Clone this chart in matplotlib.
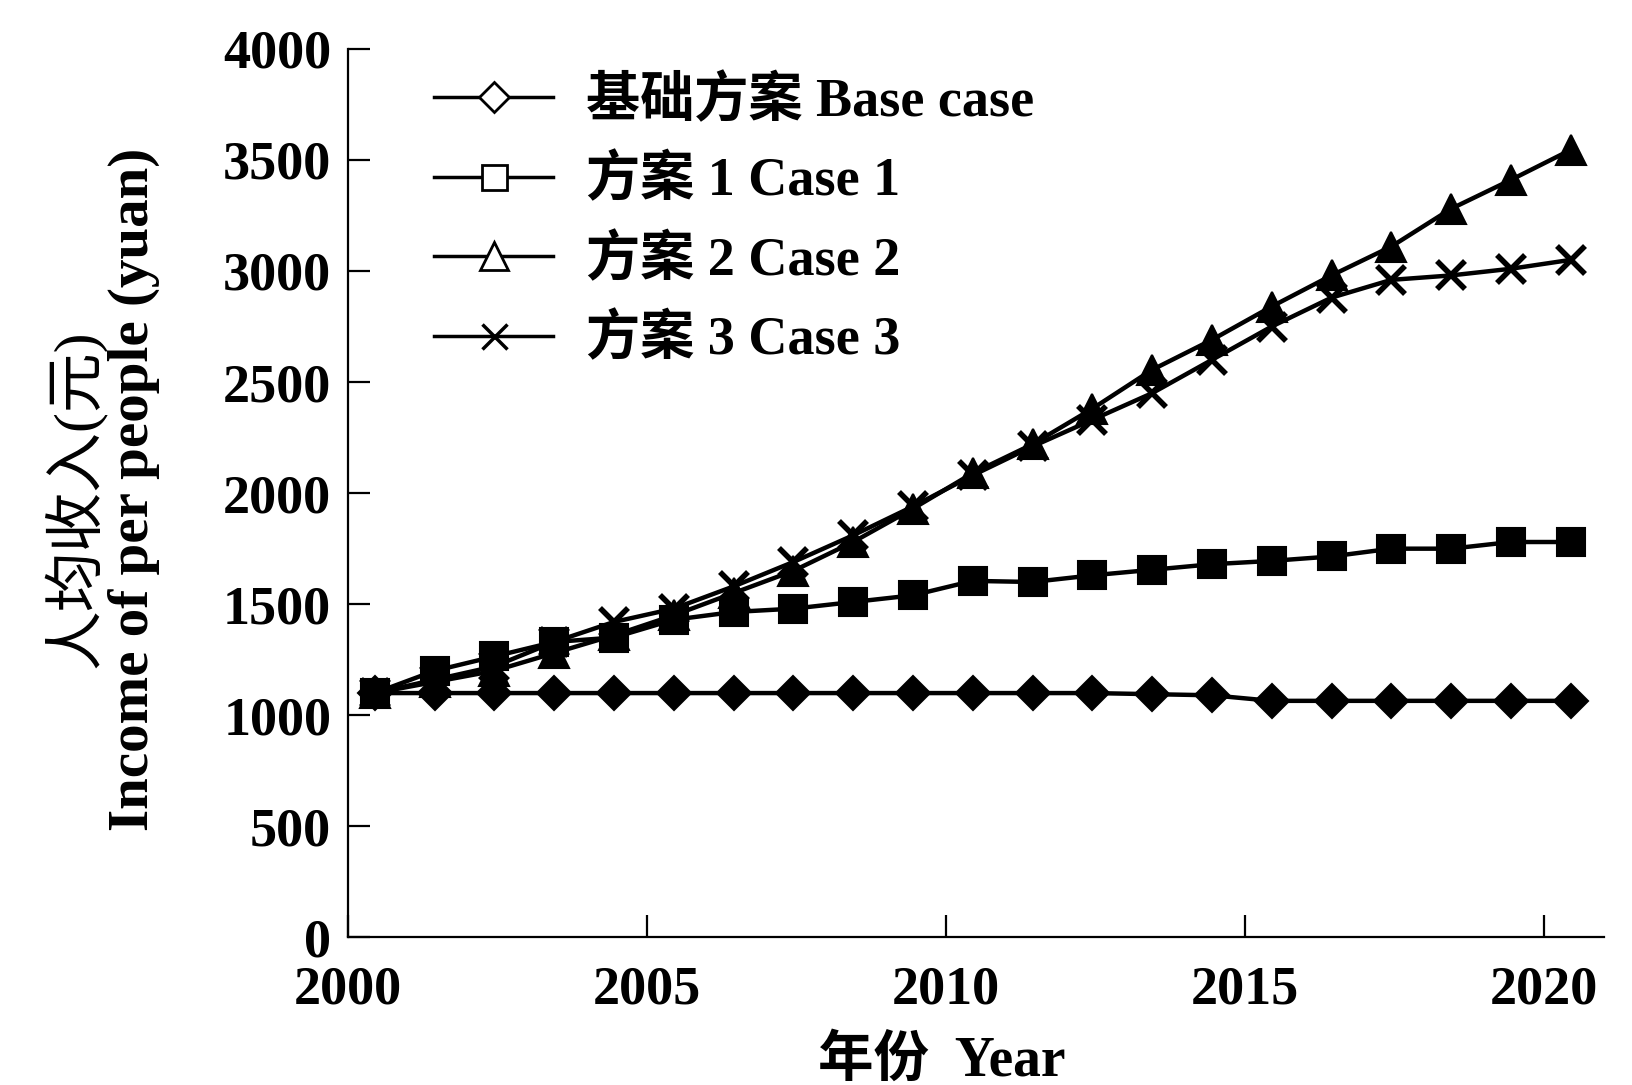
import matplotlib
matplotlib.use('Agg')
import matplotlib.pyplot as plt
from matplotlib.lines import Line2D

plt.rcParams['font.family'] = ['Liberation Serif', 'Noto Sans CJK SC', 'DejaVu Sans']

# years 2000..2020, markers sit about half a year right of the labelled year
years = list(range(2000, 2021))
x_shift = 0.45

base_case = [1100, 1100, 1100, 1100, 1100, 1100, 1100, 1100, 1100, 1100, 1100,
             1100, 1100, 1095, 1090, 1065, 1065, 1065, 1065, 1065, 1065]
case_1 = [1100, 1200, 1265, 1330, 1350, 1430, 1465, 1480, 1510, 1540, 1605,
          1600, 1630, 1655, 1680, 1695, 1715, 1750, 1750, 1780, 1780]
case_2 = [1100, 1150, 1200, 1280, 1360, 1450, 1550, 1650, 1780, 1930, 2090,
          2220, 2380, 2555, 2690, 2840, 2980, 3110, 3280, 3410, 3545]
case_3 = [1100, 1160, 1220, 1330, 1420, 1480, 1580, 1690, 1810, 1940, 2080,
          2210, 2330, 2450, 2600, 2750, 2880, 2960, 2980, 3010, 3050]

labels = ['基础方案 Base case', '方案 1 Case 1', '方案 2 Case 2', '方案 3 Case 3']
markers = ['D', 's', '^', 'x']
sizes = [17, 20, 22, 20]

xticks = [2000, 2005, 2010, 2015, 2020]
yticks = [0, 500, 1000, 1500, 2000, 2500, 3000, 3500, 4000]

fig = plt.figure(figsize=(16.33, 10.85), dpi=100)
ax = fig.add_axes([0.213, 0.136, 0.769, 0.819])

xs = [y + x_shift for y in years]
series = [base_case, case_1, case_2, case_3]
for vals, m, s in zip(series, markers, sizes):
    ax.plot(xs, vals, color='black', lw=3.2, marker=m, ms=s,
            mfc='black', mec='black', mew=4 if m == 'x' else 1.5)

ax.set_xlim(2000, 2021)
ax.set_ylim(0, 4000)
ax.set_xticks(xticks)
ax.set_yticks(yticks)
ax.spines['top'].set_visible(False)
ax.spines['right'].set_visible(False)
ax.spines['left'].set_linewidth(1.6)
ax.spines['bottom'].set_linewidth(1.6)
ax.tick_params(axis='both', direction='in', length=16, width=1.6, labelsize=39)
ax.tick_params(axis='y', pad=12)
ax.tick_params(axis='x', pad=20)
for lab in ax.get_xticklabels() + ax.get_yticklabels():
    lab.set_fontweight('bold')

fig.text(0.577, 0.022, '年份  Year', fontsize=40, fontweight='bold',
         ha='center', va='center')
fig.text(0.046, 0.54, '人均收入(元)', rotation=90, fontsize=43,
         ha='center', va='center')
fig.text(0.082, 0.549, 'Income of per people (yuan)', rotation=90, fontsize=41,
         fontweight='bold', ha='center', va='center')

handles = [Line2D([], [], color='black', lw=2.5, marker=m, ms=s * 0.9,
                  mfc='white', mec='black', mew=2.5 if m == 'x' else 2)
           for m, s in zip(markers, sizes)]
leg = ax.legend(handles, labels, loc='upper left', bbox_to_anchor=(0.03, 1.025),
                frameon=False, handlelength=2.2, handletextpad=0.6,
                labelspacing=0.5, prop={'size': 39, 'weight': 'bold'})

fig.savefig('out.png', dpi=100)
